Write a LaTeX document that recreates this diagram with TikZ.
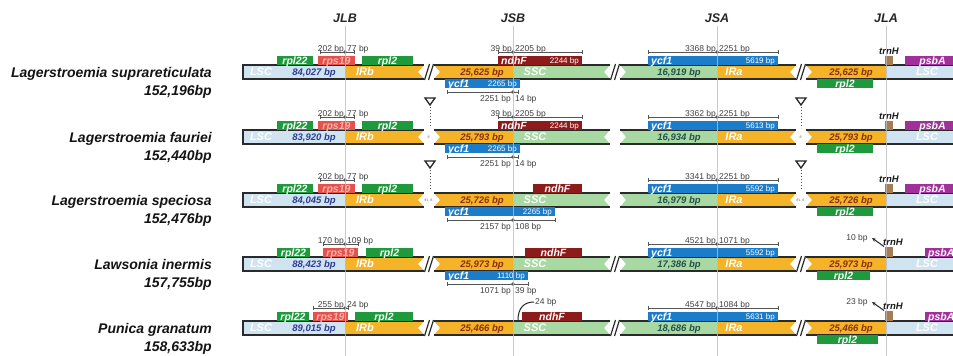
\documentclass[tikz,border=0pt]{standalone}
\usepackage{fontspec}
\setmainfont{Liberation Sans}
\usetikzlibrary{arrows.meta}
\definecolor{lscC}{HTML}{CFE3F1}
\definecolor{irC}{HTML}{F5B428}
\definecolor{sscC}{HTML}{A8D9A2}
\definecolor{grnC}{HTML}{1E9A3C}
\definecolor{redC}{HTML}{E5524C}
\definecolor{rpsT}{HTML}{F8B2AC}
\definecolor{ndhC}{HTML}{8E1B1B}
\definecolor{ycfC}{HTML}{1B7DCA}
\definecolor{trnC}{HTML}{A67C52}
\definecolor{psbC}{HTML}{A2309B}
\definecolor{lscT}{HTML}{2E3C93}
\definecolor{irT}{HTML}{8B2E0C}
\definecolor{sscT}{HTML}{24514C}
\definecolor{edgeC}{HTML}{2A2A2A}
\definecolor{brkC}{HTML}{555555}
\definecolor{vlineC}{HTML}{BDBDBD}
\tikzset{
  spname/.style={font=\fontsize{14}{15}\selectfont\bfseries\itshape, text=black!92, inner sep=0pt},
  jlab/.style={font=\fontsize{12.5}{13}\selectfont\bfseries\itshape, text=black!85, inner sep=0pt},
  genelab/.style={font=\fontsize{10.5}{11}\selectfont\bfseries\itshape, inner sep=0pt},
  genebp/.style={font=\fontsize{8}{8}\selectfont, text=white, inner sep=0pt},
  bplab/.style={font=\fontsize{8.5}{9}\selectfont, text=black!75, inner sep=0pt},
  reglab/.style={font=\fontsize{11}{11}\selectfont\bfseries\itshape, text=white, inner sep=0pt},
  lenlab/.style={font=\fontsize{9.5}{10}\selectfont\bfseries\itshape, inner sep=0pt},
  trnlab/.style={font=\fontsize{9.5}{10}\selectfont\bfseries\itshape, text=black!90, inner sep=0pt},
  tinylab/.style={font=\fontsize{3.5}{4}\selectfont, text=black!60, inner sep=0pt},
  edgeline/.style={edgeC, line width=1.6pt},
  slashline/.style={edgeC, line width=1.2pt},
  brkline/.style={brkC, line width=0.7pt},
  vline/.style={vlineC, line width=0.9pt, opacity=0.8},
}
% base bar of a row
\newcommand\basebar[4]{%
  \fill[lscC] (243,-7) rectangle (345,7);
  \fill[irC] (345,-7) -- (424,-7) -- (418,0) -- (424,7) -- (345,7) -- cycle;
  \draw[edgeline] (243,-7) -- (424,-7) (243,7) -- (424,7);
  \draw[edgeline] (243,-7.8) -- (243,7.8);
  \fill[irC] (434,-7) -- (513,-7) -- (513,7) -- (434,7) -- (440,0) -- cycle;
  \fill[sscC] (513,-7) -- (610,-7) -- (604,0) -- (610,7) -- (513,7) -- cycle;
  \draw[edgeline] (434,-7) -- (610,-7) (434,7) -- (610,7);
  \fill[sscC] (620,-7) -- (717,-7) -- (717,7) -- (620,7) -- (626,0) -- cycle;
  \fill[irC] (717,-7) -- (796,-7) -- (790,0) -- (796,7) -- (717,7) -- cycle;
  \draw[edgeline] (620,-7) -- (796,-7) (620,7) -- (796,7);
  \fill[irC] (806,-7) -- (886,-7) -- (886,7) -- (806,7) -- (812,0) -- cycle;
  \fill[lscC] (886,-7) rectangle (960,7);
  \draw[edgeline] (806,-7) -- (960,-7) (806,7) -- (960,7);
  \node[reglab, anchor=base] (\rp lscA) at (261,3.9) {LSC};
  \node[reglab, anchor=base] (\rp irb) at (365,3.9) {IRb};
  \node[reglab, anchor=base] (\rp ssc) at (535,3.9) {SSC};
  \node[reglab, anchor=base] (\rp ira) at (734,3.9) {IRa};
  \node[reglab, anchor=base] (\rp lscB) at (927,3.9) {LSC};
  \node[lenlab, text=lscT, anchor=base] (\rp lenA) at (314,3.4) {#1};
  \node[lenlab, text=irT, anchor=base] (\rp lenB) at (482,3.4) {#2};
  \node[lenlab, text=sscT, anchor=base] (\rp lenC) at (679,3.4) {#3};
  \node[lenlab, text=irT, anchor=base] (\rp lenD) at (851,3.4) {#4};
}
\newcommand\slashes{%
  \draw[slashline] (424.5,8) -- (429.5,-8) (428.5,8) -- (433.5,-8);
  \draw[slashline] (610.5,8) -- (615.5,-8) (614.5,8) -- (619.5,-8);
  \draw[slashline] (796.5,8) -- (801.5,-8) (800.5,8) -- (805.5,-8);
}
\newcommand\gapmarks[1]{%
  \node[tinylab] (\rp gapA) at (429,0) {#1};
  \node[tinylab] (\rp gapB) at (801,0) {#1};
  \draw[line width=1.3pt, black!85, line join=miter] (425,-39) -- (435,-39) -- (430,-32) -- cycle;
  \draw[black!70, line width=1pt, dotted] (430,-30) -- (430,-9);
  \draw[line width=1.3pt, black!85, line join=miter] (796,-39) -- (806,-39) -- (801,-32) -- cycle;
  \draw[black!70, line width=1pt, dotted] (801,-30) -- (801,-9);
}
\newcommand\species[2]{%
  \node[spname, anchor=base east] (\rp name) at (212,5) {#1};
  \node[spname, anchor=base east] (\rp size) at (212,23.5) {#2};
}
% genes above / below: [text colour]{name}{x1}{x2}{fill}{label}
\newcommand\gup[6][white]{%
  \fill[#5] (#3,-16) rectangle (#4,-7);
  \node[genelab, text=#1, anchor=base] (\rp#2) at ({(#3+#4)/2},-8) {#6};
}
\newcommand\gdn[6][white]{%
  \fill[#5] (#3,7) rectangle (#4,16);
  \node[genelab, text=#1, anchor=base] (\rp#2) at ({(#3+#4)/2},15) {#6};
}
\newcommand\gupbp[6]{%
  \fill[#4] (#2,-16) rectangle (#3,-7);
  \node[genelab, text=white, anchor=base west] (\rp#1) at (#2+3,-8) {#5};
  \node[genebp, anchor=base east] (\rp#1bp) at (#3-3,-8.6) {#6};
}
\newcommand\gdnbp[6]{%
  \fill[#4] (#2,7) rectangle (#3,16);
  \node[genelab, text=white, anchor=base west] (\rp#1) at (#2+3,15) {#5};
  \node[genebp, anchor=base east] (\rp#1bp) at (#3-3,14.4) {#6};
}
% brackets: {x1}{xj}{x2}{left}{right}{name}
\newcommand\brup[6]{%
  \draw[brkline] (#1,-22) -- (#1,-18) (#1,-20) -- (#3,-20) (#3,-22) -- (#3,-18);
  \fill[brkC] (#2,-20) circle[radius=1.8pt];
  \node[bplab, anchor=base east] (\rp#6l) at (#2-1,-21) {#4};
  \node[bplab, anchor=base west] (\rp#6r) at (#2+2,-21) {#5};
}
\newcommand\brdn[6]{%
  \draw[brkline] (#1,18) -- (#1,22) (#1,20) -- (#3,20) (#3,18) -- (#3,22);
  \fill[brkC] (#2,20) circle[radius=1.8pt];
  \node[bplab, anchor=base east] (\rp#6l) at (#2-2,29) {#4};
  \node[bplab, anchor=base west] (\rp#6r) at (#2+2,29) {#5};
}
\newcommand\trnHa{%
  \fill[trnC] (885,-16) rectangle (893,-7);
  \node[trnlab, anchor=base] (\rp trnH) at (889,-18) {trnH};
}
\newcommand\trnHb[1]{%
  \fill[trnC] (885,-17) rectangle (893,-7);
  \node[trnlab, anchor=base west] (\rp trnH) at (883,-19) {trnH};
  \node[bplab, anchor=base] (\rp trnbp) at (857,-23.5) {#1};
  \coordinate (\rp arT) at (884,-17.5);
  \coordinate (\rp arH) at (872,-26);
  \draw[line width=1pt, black!85, -{Stealth[length=4pt,width=3.5pt]}] (\rp arT) -- (\rp arH);
}
\begin{document}
\begin{tikzpicture}[x=1pt,y=-1pt]
\useasboundingbox (0,0) rectangle (953,356);
\clip (0,0) rectangle (953,356);
\fill[white] (0,0) rectangle (953,356);
\node[jlab, anchor=base] (jlb) at (345,22) {JLB};
\node[jlab, anchor=base] (jsb) at (513,22) {JSB};
\node[jlab, anchor=base] (jsa) at (717,22) {JSA};
\node[jlab, anchor=base] (jla) at (886,22) {JLA};

% ---------------- Row 1
\begin{scope}[yshift=-72pt]
\def\rp{a}
\basebar{84,027 bp}{25,625 bp}{16,919 bp}{25,625 bp}
\slashes
\species{Lagerstroemia suprareticulata}{152,196bp}
\gup{rpl22}{277}{313}{grnC}{rpl22}
\gup[rpsT]{rps19}{318}{355}{redC}{rps19}
\gup{rpl2}{362}{413}{grnC}{rpl2}
\brup{320}{345}{354}{202 bp}{77 bp}{jlb}
\gupbp{ndhF}{498}{582}{ndhC}{ndhF}{2244 bp}
\brup{498}{513}{582}{39 bp}{2205 bp}{jsb}
\gdnbp{ycfB}{445}{520}{ycfC}{ycf1}{2265 bp}
\brdn{447}{513}{518}{2251 bp}{14 bp}{jsbd}
\gupbp{ycfA}{648}{778}{ycfC}{ycf1}{5619 bp}
\brup{648}{717}{778}{3368 bp}{2251 bp}{jsa}
\gdn{rplB}{817}{873}{grnC}{rpl2}
\trnHa
\gup{psbA}{905}{960}{psbC}{psbA}
\end{scope}

% ---------------- Row 2
\begin{scope}[yshift=-137pt]
\def\rp{b}
\basebar{83,920 bp}{25,793 bp}{16,934 bp}{25,793 bp}
\gapmarks{8'}
\species{Lagerstroemia fauriei}{152,440bp}
\gup{rpl22}{277}{313}{grnC}{rpl22}
\gup[rpsT]{rps19}{318}{355}{redC}{rps19}
\gup{rpl2}{362}{413}{grnC}{rpl2}
\brup{320}{345}{354}{202 bp}{77 bp}{jlb}
\gupbp{ndhF}{498}{582}{ndhC}{ndhF}{2244 bp}
\brup{498}{513}{582}{39 bp}{2205 bp}{jsb}
\gdnbp{ycfB}{445}{520}{ycfC}{ycf1}{2265 bp}
\brdn{447}{513}{518}{2251 bp}{14 bp}{jsbd}
\gupbp{ycfA}{648}{778}{ycfC}{ycf1}{5613 bp}
\brup{648}{717}{778}{3362 bp}{2251 bp}{jsa}
\gdn{rplB}{817}{873}{grnC}{rpl2}
\trnHa
\gup{psbA}{905}{960}{psbC}{psbA}
\end{scope}

% ---------------- Row 3
\begin{scope}[yshift=-200pt]
\def\rp{c}
\basebar{84,045 bp}{25,726 bp}{16,979 bp}{25,726 bp}
\gapmarks{ff1, 8-}
\species{Lagerstroemia speciosa}{152,476bp}
\gup{rpl22}{277}{313}{grnC}{rpl22}
\gup[rpsT]{rps19}{318}{355}{redC}{rps19}
\gup{rpl2}{362}{413}{grnC}{rpl2}
\brup{320}{345}{354}{202 bp}{77 bp}{jlb}
\gup{ndhF}{533}{582}{ndhC}{ndhF}
\gdnbp{ycfB}{445}{555}{ycfC}{ycf1}{2265 bp}
\brdn{447}{513}{555}{2157 bp}{108 bp}{jsbd}
\gupbp{ycfA}{648}{778}{ycfC}{ycf1}{5592 bp}
\brup{648}{717}{778}{3341 bp}{2251 bp}{jsa}
\gdn{rplB}{817}{873}{grnC}{rpl2}
\trnHa
\gup{psbA}{905}{960}{psbC}{psbA}
\end{scope}

% ---------------- Row 4
\begin{scope}[yshift=-264pt]
\def\rp{d}
\basebar{88,423 bp}{25,973 bp}{17,386 bp}{25,973 bp}
\slashes
\species{Lawsonia inermis}{157,755bp}
\gup{rpl22}{277}{310}{grnC}{rpl22}
\gup[rpsT]{rps19}{323}{358}{redC}{rps19}
\gup{rpl2}{366}{413}{grnC}{rpl2}
\brup{323}{345}{358}{170 bp}{109 bp}{jlb}
\gup{ndhF}{525}{582}{ndhC}{ndhF}
\gdnbp{ycfB}{445}{528}{ycfC}{ycf1}{1110 bp}
\brdn{447}{513}{528}{1071 bp}{39 bp}{jsbd}
\gupbp{ycfA}{648}{778}{ycfC}{ycf1}{5592 bp}
\brup{648}{717}{778}{4521 bp}{1071 bp}{jsa}
\gdn{rplB}{817}{870}{grnC}{rpl2}
\trnHb{10 bp}
\fill[psbC] (925,-16) rectangle (960,-7);
\node[genelab, text=white, anchor=base west] (dpsbA) at (928,-8) {psbA};
\end{scope}

% ---------------- Row 5
\begin{scope}[yshift=-328pt]
\def\rp{e}
\basebar{89,015 bp}{25,466 bp}{18,686 bp}{25,466 bp}
\slashes
\species{Punica granatum}{158,633bp}
\gup{rpl22}{277}{309}{grnC}{rpl22}
\gup[rpsT]{rps19}{313}{348}{redC}{rps19}
\gup{rpl2}{355}{413}{grnC}{rpl2}
\brup{313}{345}{348}{255 bp}{24 bp}{jlb}
\gup{ndhF}{522}{582}{ndhC}{ndhF}
\coordinate (ecA) at (518,-8);
\coordinate (ecB) at (534,-26);
\draw[line width=1pt, black!85] (ecA) .. controls (518,-20) and (524,-26) .. (ecB);
\node[bplab, anchor=base west] (ecbp) at (535,-23.5) {24 bp};
\gupbp{ycfA}{648}{778}{ycfC}{ycf1}{5631 bp}
\brup{648}{717}{778}{4547 bp}{1084 bp}{jsa}
\gdn{rplB}{817}{878}{grnC}{rpl2}
\trnHb{23 bp}
\fill[psbC] (925,-16) rectangle (960,-7);
\node[genelab, text=white, anchor=base west] (epsbA) at (928,-8) {psbA};
\end{scope}

% junction lines
\draw[vline] (jlb.south) ++(0,4) -- (345,356);
\draw[vline] (jsb.south) ++(0,4) -- (513,356);
\draw[vline] (jsa.south) ++(0,4) -- (717,356);
\draw[vline] (jla.south) ++(0,4) -- (886,356);
\end{tikzpicture}
\end{document}
